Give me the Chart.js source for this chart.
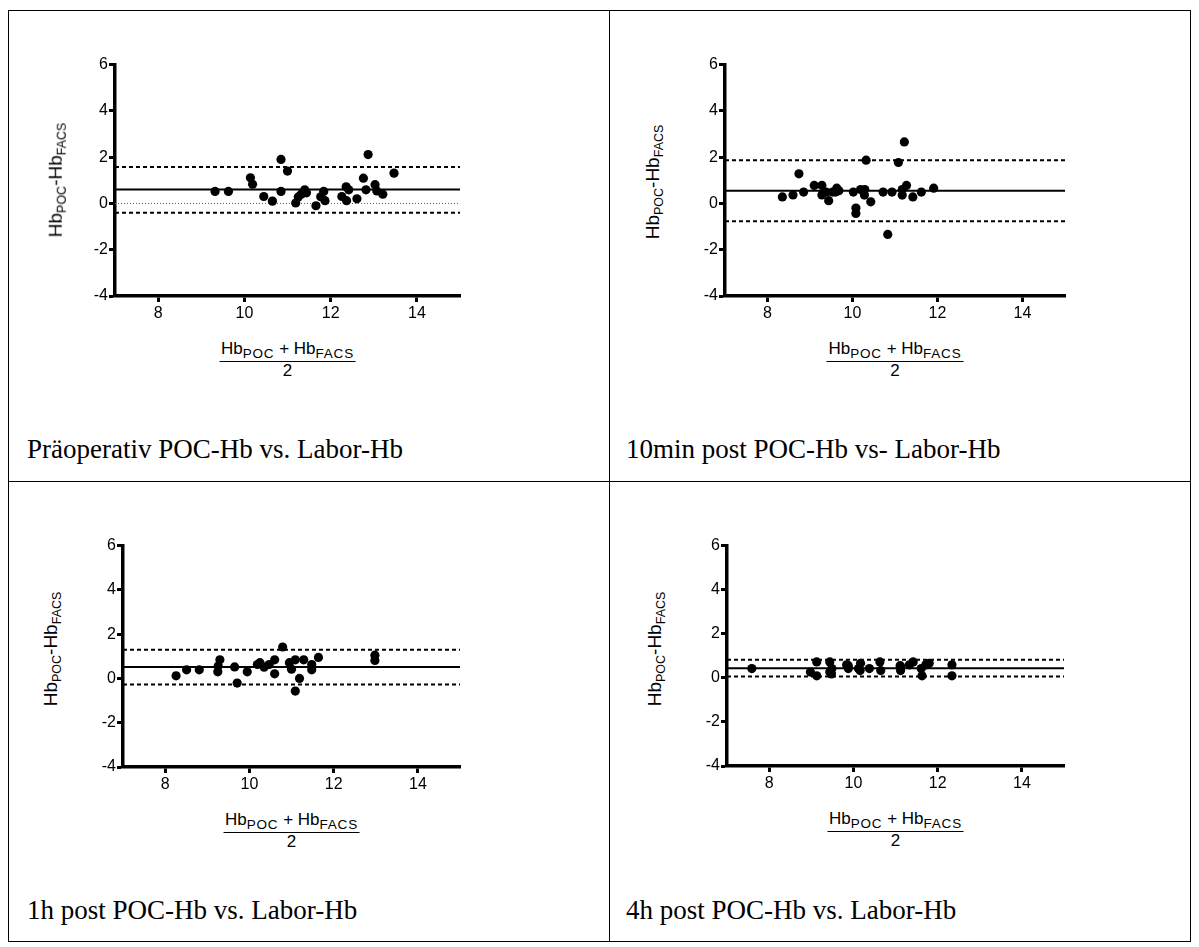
<!DOCTYPE html>
<html>
<head>
<meta charset="utf-8">
<script src="https://cdn.jsdelivr.net/npm/chart.js@4.4.0/dist/chart.umd.min.js"></script>
<style>
  body { margin: 0; background: #fff; }
  #page { position: relative; width: 1199px; height: 947px; overflow: hidden; }
  .hline, .vline { position: absolute; background: #000; }
  .caption { position: absolute; font-family: "Liberation Serif", "Times New Roman", serif; font-size: 27px; color: #000; white-space: nowrap; line-height: 1; }
  canvas { position: absolute; }
  .ylab { position: absolute; font-family: "Liberation Sans", Arial, sans-serif; font-size: 19px; white-space: nowrap; transform: translate(-50%, -50%) rotate(-90deg); line-height: 1; }
  .ylab sub { font-size: 12.5px; vertical-align: -4px; }
  .xlab { position: absolute; font-family: "Liberation Sans", Arial, sans-serif; font-size: 17px; text-align: center; transform: translateX(-50%); line-height: 1; white-space: nowrap; }
  .xlab sub { font-size: 13.5px; letter-spacing: 0.8px; vertical-align: -4px; }
  .xlab .num { padding: 0 2px 3px; border-bottom: 1px solid #000; }
  .xlab .den { padding-top: 1px; }
</style>
</head>
<body>
<div id="page"></div>
<script>
// tick labels
const xTicks = [8, 10, 12, 14];
const yTicks = [-4, -2, 0, 2, 4, 6];

const captions = [
  "Präoperativ POC-Hb vs. Labor-Hb",
  "10min post POC-Hb vs- Labor-Hb",
  "1h post POC-Hb vs. Labor-Hb",
  "4h post POC-Hb vs. Labor-Hb"
];

// Präoperativ
const p1X = [9.32, 9.63, 10.14, 10.19, 10.45, 10.65, 10.85, 10.85, 11.0, 11.19, 11.25, 11.32, 11.40, 11.44, 11.66, 11.77, 11.84, 11.87, 12.26, 12.36, 12.37, 12.42, 12.61, 12.76, 12.82, 12.87, 13.03, 13.07, 13.21, 13.47];
const p1Y = [0.52, 0.52, 1.11, 0.83, 0.30, 0.10, 1.90, 0.52, 1.40, 0.02, 0.28, 0.40, 0.59, 0.46, -0.10, 0.29, 0.52, 0.12, 0.30, 0.72, 0.12, 0.59, 0.20, 1.09, 0.59, 2.11, 0.81, 0.54, 0.40, 1.31];
const p1Lines = [0.6, 1.58, -0.4]; // mean, upper, lower

// 10min post
const p2X = [8.35, 8.60, 8.74, 8.85, 9.10, 9.28, 9.28, 9.38, 9.44, 9.53, 9.60, 9.63, 9.68, 10.02, 10.08, 10.08, 10.19, 10.28, 10.29, 10.32, 10.43, 10.72, 10.83, 10.93, 11.08, 11.17, 11.17, 11.22, 11.27, 11.42, 11.62, 11.91];
const p2Y = [0.28, 0.37, 1.28, 0.49, 0.78, 0.78, 0.37, 0.49, 0.12, 0.49, 0.49, 0.66, 0.55, 0.49, -0.20, -0.43, 0.60, 0.36, 0.60, 1.87, 0.07, 0.49, -1.34, 0.49, 1.77, 0.60, 0.36, 2.66, 0.78, 0.28, 0.49, 0.66];
const p2Lines = [0.55, 1.87, -0.77];

// 1h post
const p3X = [8.26, 8.51, 8.81, 9.25, 9.26, 9.30, 9.65, 9.71, 9.95, 10.19, 10.25, 10.35, 10.47, 10.60, 10.60, 10.79, 10.95, 11.00, 11.09, 11.09, 11.19, 11.29, 11.48, 11.48, 11.64, 12.98, 12.98];
const p3Y = [0.12, 0.39, 0.39, 0.30, 0.56, 0.84, 0.52, -0.21, 0.30, 0.63, 0.71, 0.51, 0.63, 0.84, 0.21, 1.42, 0.71, 0.42, 0.84, -0.57, 0.00, 0.84, 0.63, 0.39, 0.95, 1.05, 0.81];
const p3Lines = [0.52, 1.3, -0.27];

// 4h post
const p4X = [7.59, 8.98, 9.13, 9.13, 9.44, 9.44, 9.48, 9.49, 9.84, 9.88, 9.88, 10.12, 10.16, 10.17, 10.38, 10.63, 10.65, 11.11, 11.12, 11.12, 11.33, 11.42, 11.61, 11.63, 11.72, 11.80, 12.34, 12.34];
const p4Y = [0.42, 0.26, 0.72, 0.09, 0.72, 0.26, 0.18, 0.42, 0.59, 0.42, 0.55, 0.42, 0.33, 0.66, 0.42, 0.72, 0.33, 0.55, 0.51, 0.33, 0.59, 0.72, 0.42, 0.09, 0.59, 0.66, 0.59, 0.09];
const p4Lines = [0.44, 0.82, 0.06];

// plot area boxes (left, top, right, bottom) and label spots
const panels = [
  { xs: p1X, ys: p1Y, lines: p1Lines, zero: true,  box: [115, 64, 460, 296],  ylab: [57, 180], cap: [27, 436] },
  { xs: p2X, ys: p2Y, lines: p2Lines, zero: false, box: [725, 64, 1065, 296], ylab: [654, 182], cap: [626, 436] },
  { xs: p3X, ys: p3Y, lines: p3Lines, zero: false, box: [123, 545, 460, 767], ylab: [52, 649], cap: [27, 897] },
  { xs: p4X, ys: p4Y, lines: p4Lines, zero: false, box: [727, 545, 1064, 766], ylab: [656, 649], cap: [626, 897] }
];

const page = document.getElementById("page");

// table borders
function line(cls, l, t, w, h) {
  const d = document.createElement("div");
  d.className = cls;
  d.style.cssText = `left:${l}px;top:${t}px;width:${w}px;height:${h}px`;
  page.appendChild(d);
}
line("hline", 8, 10, 1183, 1);
line("hline", 8, 481, 1183, 1);
line("hline", 8, 941, 1183, 1);
line("vline", 8, 10, 1, 932);
line("vline", 609, 10, 1, 932);
line("vline", 1190, 10, 1, 932);

const AXW = 50, AXH = 40, PADT = 10, PADR = 10;

panels.forEach((p, i) => {
  const [L, T, R, B] = p.box;
  const cv = document.createElement("canvas");
  cv.width = R - L + AXW + PADR;
  cv.height = B - T + PADT + AXH;
  cv.style.left = (L - AXW) + "px";
  cv.style.top = (T - PADT) + "px";
  page.appendChild(cv);

  const refLine = (v, dash, width, color) => ({
    type: "line",
    data: [{ x: 7, y: v }, { x: 15, y: v }],
    borderColor: color || "#000",
    borderWidth: width,
    borderDash: dash,
    pointRadius: 0,
    order: 2
  });

  const datasets = [{
    type: "scatter",
    data: p.xs.map((x, k) => ({ x: x, y: p.ys[k] })),
    backgroundColor: "#000",
    borderColor: "#000",
    pointRadius: 4.6,
    pointBorderWidth: 0,
    order: 0
  },
    refLine(p.lines[0], [], 2),
    refLine(p.lines[1], [4, 3], 2),
    refLine(p.lines[2], [4, 3], 2)
  ];
  if (p.zero) datasets.push(refLine(0, [1, 2], 1, "#555"));

  const axisStyle = {
    border: { display: true, width: 3.5, color: "#000" },
    grid: { drawOnChartArea: false, drawTicks: true, tickLength: 6, tickWidth: 3, tickColor: "#000" }
  };

  new Chart(cv.getContext("2d"), {
    data: { datasets: datasets },
    options: {
      responsive: false,
      animation: false,
      devicePixelRatio: 1,
      layout: { padding: { top: PADT, right: PADR, left: 0, bottom: 0 } },
      plugins: { legend: { display: false }, tooltip: { enabled: false } },
      scales: {
        x: {
          ...axisStyle,
          type: "linear", min: 7, max: 15,
          afterBuildTicks: s => { s.ticks = xTicks.map(v => ({ value: v })); },
          afterFit: s => { s.height = AXH; },
          ticks: { color: "#000", font: { family: "Liberation Sans", size: 16 }, padding: 2, maxRotation: 0 }
        },
        y: {
          ...axisStyle,
          type: "linear", min: -4, max: 6,
          afterBuildTicks: s => { s.ticks = yTicks.map(v => ({ value: v })); },
          afterFit: s => { s.width = AXW; },
          ticks: { color: "#000", font: { family: "Liberation Sans", size: 16 }, padding: 1 }
        }
      }
    }
  });

  // y axis title
  const yl = document.createElement("div");
  yl.className = "ylab";
  yl.innerHTML = "Hb<sub>POC</sub>-Hb<sub>FACS</sub>";
  yl.style.left = p.ylab[0] + "px";
  yl.style.top = p.ylab[1] + "px";
  page.appendChild(yl);

  // x axis title (fraction)
  const xl = document.createElement("div");
  xl.className = "xlab";
  xl.innerHTML = '<div><span class="num">Hb<sub>POC</sub> + Hb<sub>FACS</sub></span></div><div class="den">2</div>';
  xl.style.left = ((L + R) / 2) + "px";
  xl.style.top = (B + 44) + "px";
  page.appendChild(xl);

  // caption
  const c = document.createElement("div");
  c.className = "caption";
  c.textContent = captions[i];
  c.style.left = p.cap[0] + "px";
  c.style.top = p.cap[1] + "px";
  page.appendChild(c);
});
</script>
</body>
</html>
